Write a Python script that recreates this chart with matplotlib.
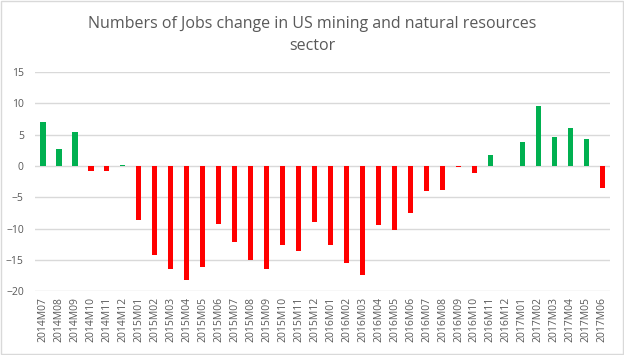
import matplotlib
matplotlib.use("Agg")
import matplotlib.pyplot as plt
from matplotlib.patches import Rectangle

months = ["2014M07", "2014M08", "2014M09", "2014M10", "2014M11", "2014M12",
          "2015M01", "2015M02", "2015M03", "2015M04", "2015M05", "2015M06",
          "2015M07", "2015M08", "2015M09", "2015M10", "2015M11", "2015M12",
          "2016M01", "2016M02", "2016M03", "2016M04", "2016M05", "2016M06",
          "2016M07", "2016M08", "2016M09", "2016M10", "2016M11", "2016M12",
          "2017M01", "2017M02", "2017M03", "2017M04", "2017M05", "2017M06"]
jobs_change = [7.1, 2.7, 5.5, -0.75, -0.75, 0.2,
               -8.7, -14.3, -16.4, -18.3, -16.2, -9.3,
               -12.2, -15.1, -16.5, -12.6, -13.6, -9.0,
               -12.6, -15.5, -17.4, -9.4, -10.3, -7.6,
               -4.0, -3.9, -0.2, -1.2, 1.7, 0.0,
               3.8, 9.5, 4.7, 6.0, 4.3, -3.6]
yticks = [-20, -15, -10, -5, 0, 5, 10, 15]

plt.rcParams['font.family'] = ['Open Sans', 'DejaVu Sans']
txt = '#595959'

fig = plt.figure(figsize=(6.24, 3.55), dpi=100)
fig.patches.append(Rectangle((0.002, 0.003), 0.996, 0.994, transform=fig.transFigure,
                             fill=False, edgecolor='#d9d9d9', linewidth=1))
ax = fig.add_axes([0.056, 0.180, 0.922, 0.617])

colors = ['#00b050' if v > 0 else '#ff0000' for v in jobs_change]
ax.bar(range(len(months)), jobs_change, width=0.33, color=colors, zorder=3)

ax.set_xlim(-0.5, len(months) - 0.5)
ax.set_ylim(-20, 15)
ax.set_yticks(yticks)
ax.set_xticks(range(len(months)))
ax.set_xticklabels(months, rotation=90, fontsize=7.5, color=txt)
ax.tick_params(axis='y', labelsize=7.5, colors=txt, length=0, pad=8)
ax.tick_params(axis='x', length=0, pad=4)
ax.grid(axis='y', color='#d9d9d9', linewidth=1, zorder=0)
for s in ax.spines.values():
    s.set_visible(False)

fig.text(0.5, 0.955, "Numbers of Jobs change in US mining and natural resources\nsector",
         ha='center', va='top', fontsize=11.5, color=txt, linespacing=1.5)

fig.savefig("out.png", dpi=100)
